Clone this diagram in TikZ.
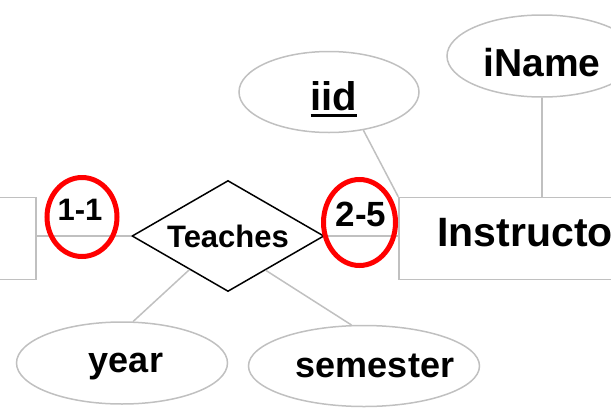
\documentclass[tikz,border=0pt]{standalone}
\usepackage{fontspec}
\setmainfont{Liberation Sans}
\usetikzlibrary{shapes.geometric,calc}
\definecolor{lgray}{RGB}{192,192,192}
\newcommand{\keyattr}[1]{\setbox0\hbox{#1}\rlap{\rule[-7pt]{\wd0}{3.5pt}}\box0}

\begin{document}
\begin{tikzpicture}[x=1pt,y=-1pt,
  attr/.style={ellipse,draw=lgray,line width=1.5pt,inner sep=0pt},
  entity/.style={rectangle,draw=lgray,line width=1.5pt,minimum height=82pt,inner sep=0pt},
  rel/.style={diamond,shape aspect=1.73,draw=black,line width=1.5pt,inner sep=0pt},
  card/.style={ellipse,draw=red,line width=5pt,inner sep=0pt},
  link/.style={draw=lgray,line width=1.5pt}]

\useasboundingbox (0,0) rectangle (611,413);

\node[entity,minimum width=152pt] (course) at (-40,238.5) {};
\node[entity,minimum width=268pt,text depth=13pt,font=\bfseries\fontsize{41}{48}\selectfont] (instr) at (533,238.5) {Instructor};
\node[rel,minimum width=192pt,minimum height=111pt,font=\bfseries\fontsize{31}{36}\selectfont] (teach) at (228,236) {Teaches};

\node[attr,minimum width=180pt,minimum height=81pt,text height=36pt,text depth=0pt,font=\bfseries\fontsize{40}{46}\selectfont] (iid) at (329,92) {\hspace*{10pt}\keyattr{iid}};
\node[attr,minimum width=190pt,minimum height=82pt,text height=40pt,text depth=0pt,font=\bfseries\fontsize{39}{46}\selectfont] (iname) at (542,56) {iName};
\node[attr,minimum width=211pt,minimum height=82pt,text depth=1pt,font=\bfseries\fontsize{36}{42}\selectfont] (year) at (122,363) {\hspace*{8pt}year};
\node[attr,minimum width=231pt,minimum height=81pt,font=\bfseries\fontsize{36}{42}\selectfont] (sem) at (364,366) {\hspace*{22pt}\makebox[0pt]{semester}};

\draw[link] (teach.west -| course.east) -- (teach.west);
\draw[link] (teach.east) -- (teach.east -| instr.west);
\draw[link] (iid.-48) -- (instr.north west);
\draw[link] (iname.south) -- (iname.south |- instr.north);
\draw[link] (year.75) -- ($(teach.south)!0.4!(teach.west)$);
\draw[link] (sem.107) -- ($(teach.south)!0.39!(teach.east)$);

% cardinalities
\node[font=\bfseries\fontsize{31}{36}\selectfont] (m1) at (80,210) {1-1};
\node[font=\bfseries\fontsize{35}{40}\selectfont] (m2) at (361,214.5) {2-5};
\node[card,minimum width=70pt,minimum height=79pt] (c1) at (82,217) {};
\node[card,minimum width=72pt,minimum height=86pt] (c2) at (359.5,222.5) {};

\end{tikzpicture}
\end{document}
